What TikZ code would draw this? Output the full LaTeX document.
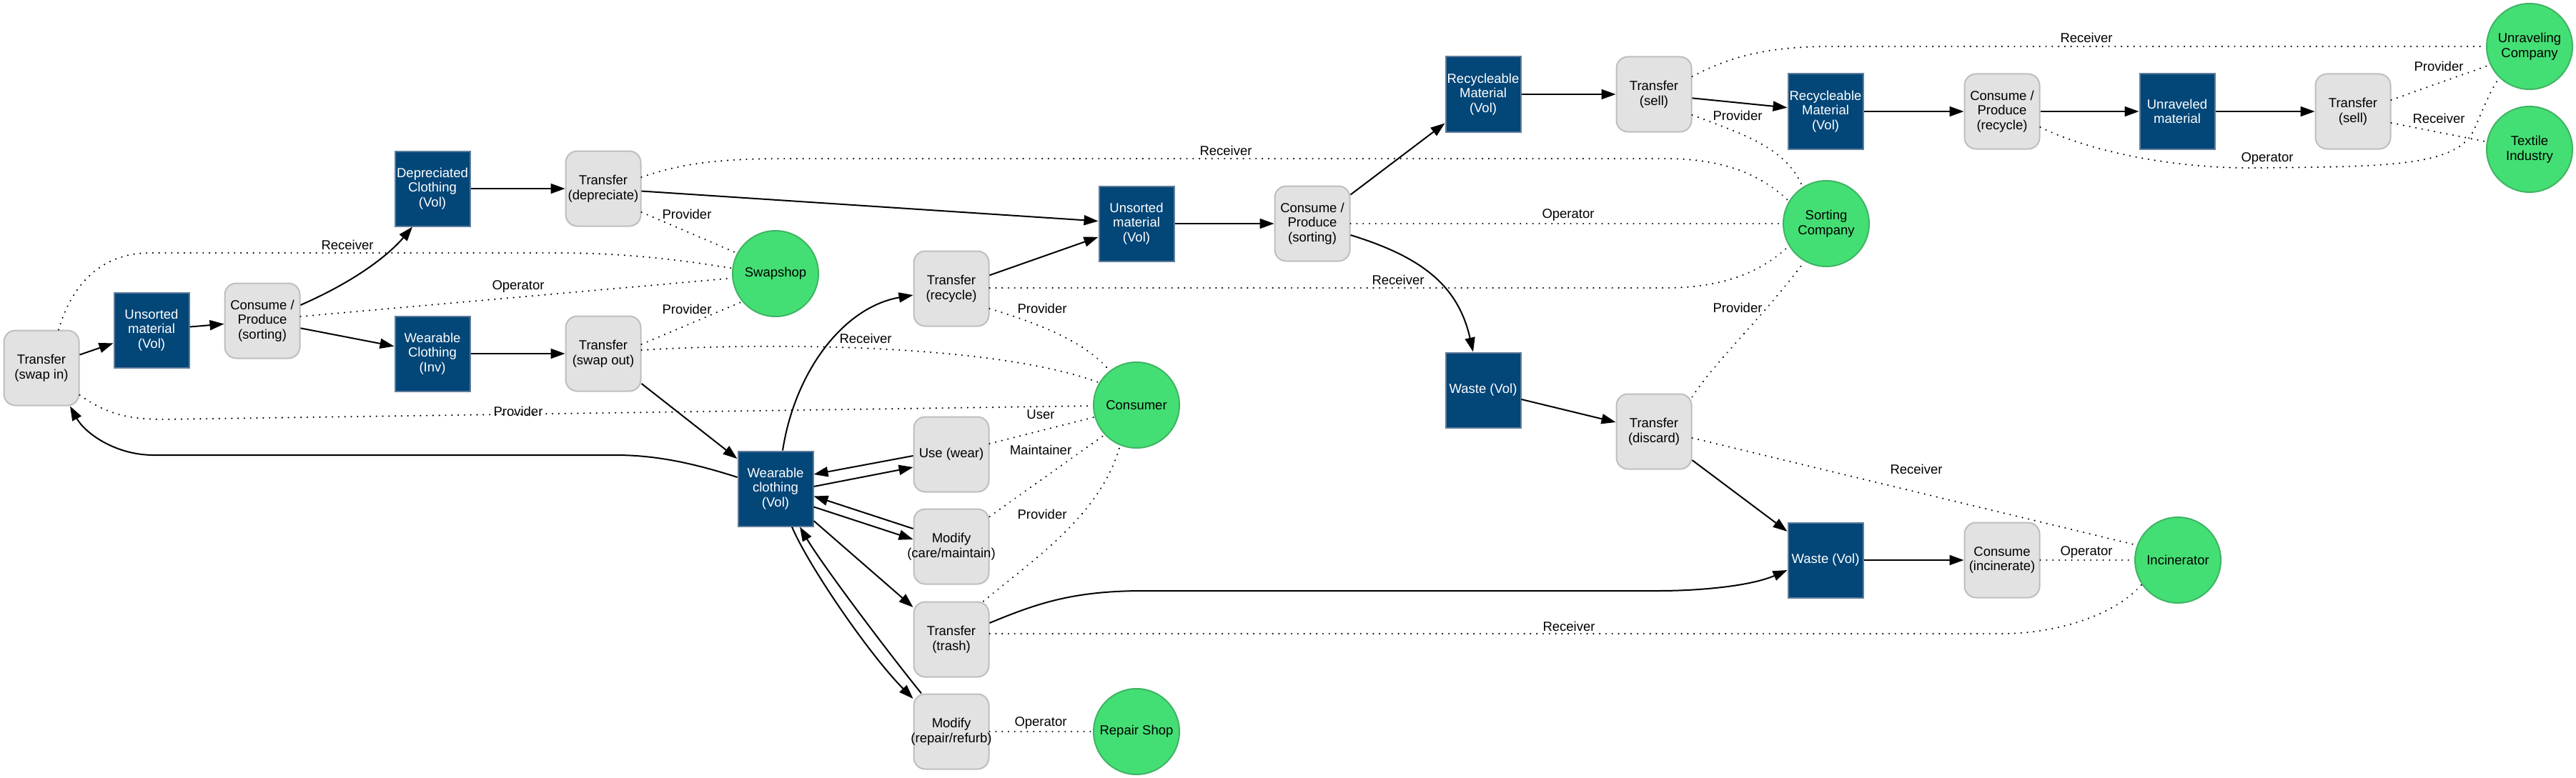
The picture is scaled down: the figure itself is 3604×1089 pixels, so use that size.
\documentclass[tikz,border=0pt]{standalone}
\usepackage{fontspec}
\setmainfont{Liberation Sans}
\usetikzlibrary{arrows.meta}
\definecolor{boxblue}{RGB}{3,70,120}
\definecolor{blueborder}{RGB}{95,125,155}
\definecolor{boxgray}{RGB}{226,226,226}
\definecolor{grayborder}{RGB}{190,190,190}
\definecolor{agentgreen}{RGB}{68,223,116}
\definecolor{greenborder}{RGB}{62,180,100}
\begin{document}
\begin{tikzpicture}[x=1pt,y=-1pt,
  every node/.style={font=\fontsize{18.5}{20.5}\selectfont},
  stock/.style={draw=blueborder, line width=2pt, fill=boxblue, text=white, minimum width=105pt, minimum height=105pt, inner sep=1pt, align=center},
  act/.style={draw=grayborder, line width=2pt, fill=boxgray, rounded corners=16pt, minimum width=105pt, minimum height=105pt, inner sep=1pt, align=center},
  agent/.style={circle, draw=greenborder, line width=2pt, fill=agentgreen, minimum size=120pt, inner sep=0pt, align=center},
  flow/.style={draw, line width=2pt, -{Triangle[length=20pt,width=14pt]}},
  rel/.style={draw, line width=2.3pt, line cap=round, dash pattern=on 0.1pt off 8.7pt},
  lbl/.style={inner sep=0pt}]
\fill[white] (0,0) rectangle (3604,1089);
\useasboundingbox (0,0) rectangle (3604,1089);

% ---------- nodes ----------
\node[act]   (swapin)   at (58,515)  {Transfer\\(swap in)};
\node[stock] (uns1)     at (212,462) {Unsorted\\material\\(Vol)};
\node[act]   (cons1)    at (367,449) {Consume /\\Produce\\(sorting)};
\node[stock] (depr)     at (605,264) {Depreciated\\Clothing\\(Vol)};
\node[stock] (wearInv)  at (605,495) {Wearable\\Clothing\\(Inv)};
\node[act]   (trDep)    at (844,264) {Transfer\\(depreciate)};
\node[act]   (trSwap)   at (844,495) {Transfer\\(swap out)};
\node[agent] (swapshop) at (1085,383) {Swapshop};
\node[stock] (wearVol)  at (1085,684) {Wearable\\clothing\\(Vol)};
\node[act]   (trRec)    at (1331,404) {Transfer\\(recycle)};
\node[act]   (use)      at (1331,636) {Use (wear)};
\node[act]   (modCare)  at (1331,765) {Modify\\\makebox[0pt]{(care/maintain)}};
\node[act]   (trTrash)  at (1331,895) {Transfer\\(trash)};
\node[act]   (modRep)   at (1331,1024) {Modify\\\makebox[0pt]{(repair/refurb)}};
\node[agent] (consumer) at (1590,567) {Consumer};
\node[agent] (repair)   at (1590,1024) {Repair Shop};
\node[stock] (uns2)     at (1590,313) {Unsorted\\material\\(Vol)};
\node[act]   (cons2)    at (1836,313) {Consume /\\Produce\\(sorting)};
\node[stock] (rec1)     at (2075,132) {\makebox[0pt]{Recycleable}\\Material\\(Vol)};
\node[act]   (sell1)    at (2314,132) {Transfer\\(sell)};
\node[stock] (rec2)     at (2554,156) {\makebox[0pt]{Recycleable}\\Material\\(Vol)};
\node[act]   (consRec)  at (2801,156) {Consume /\\Produce\\(recycle)};
\node[stock] (unrav)    at (3046,156) {Unraveled\\material};
\node[act]   (sell2)    at (3292,156) {Transfer\\(sell)};
\node[agent] (unravCo)  at (3539,65)  {Unraveling\\Company};
\node[agent] (textile)  at (3539,209) {Textile\\Industry};
\node[agent] (sortCo)   at (2555,313) {Sorting\\Company};
\node[stock] (waste1)   at (2075,546) {Waste (Vol)};
\node[act]   (discard)  at (2314,604) {Transfer\\(discard)};
\node[stock] (waste2)   at (2554,784) {Waste (Vol)};
\node[act]   (consInc)  at (2801,784) {Consume\\(incinerate)};
\node[agent] (incin)    at (3047,784) {Incinerator};

% ---------- material flows ----------
\draw[flow] (swapin) -- (uns1);
\draw[flow] (uns1) -- (cons1);
\draw[flow] ([yshift=22pt]cons1.east) .. controls (505,390) and (548,352) .. ([xshift=-28pt]depr.south);
\draw[flow] (cons1) -- (wearInv);
\draw[flow] (depr) -- (trDep);
\draw[flow] (wearInv) -- (trSwap);
\draw[flow] (trDep) -- (uns2);
\draw[flow] (trSwap) -- (wearVol);
\draw[flow] ([yshift=16pt]wearVol.west) .. controls (960,645) and (910,637) .. (860,637)
   -- (215,637) .. controls (160,637) and (118,605) .. ([xshift=40pt]swapin.south);
\draw[flow] ([xshift=10pt]wearVol.north) .. controls (1112,520) and (1180,430) .. ([yshift=-9pt]trRec.west);
\draw[flow] (trRec) -- (uns2);
\draw[flow] ([yshift=-2pt]use.west) -- ([yshift=20pt]wearVol.east);
\draw[flow] ([yshift=3pt]wearVol.east) -- ([yshift=-18pt]use.west);
\draw[flow] ([yshift=25pt]modCare.west) -- ([yshift=-10.5pt]wearVol.east);
\draw[flow] ([yshift=-25.5pt]wearVol.east) -- ([yshift=10pt]modCare.west);
\draw[flow] ([yshift=-45pt]wearVol.east) -- ([yshift=45pt]trTrash.west);
\draw[flow] ([xshift=23pt]wearVol.south) .. controls (1130,790) and (1215,915) .. ([yshift=46pt]modRep.west);
\draw[flow] ([xshift=-42pt]modRep.north) .. controls (1240,910) and (1150,790) .. ([xshift=34pt]wearVol.south);
\draw[flow] (uns2) -- (cons2);
\draw[flow] (cons2) -- (rec1);
\draw[flow] ([yshift=-16pt]cons2.east) .. controls (1990,360) and (2040,400) .. ([xshift=-14pt]waste1.north);
\draw[flow] (rec1) -- (sell1);
\draw[flow] (sell1) -- (rec2);
\draw[flow] (rec2) -- (consRec);
\draw[flow] (consRec) -- (unrav);
\draw[flow] (unrav) -- (sell2);
\draw[flow] (waste1) -- (discard);
\draw[flow] (discard) -- (waste2);
\draw[flow] ([yshift=23pt]trTrash.east) .. controls (1450,845) and (1500,827) .. (1600,827)
   -- (2320,827) .. controls (2380,827) and (2450,820) .. ([yshift=-14pt]waste2.west);
\draw[flow] (waste2) -- (consInc);

% ---------- roles ----------
\draw[rel] ([xshift=24pt]swapin.north) .. controls (100,400) and (140,354) .. (210,354)
   -- (780,354) .. controls (880,354) and (960,365) .. (swapshop.173);
\node[lbl] (l1) at (486,343) {Receiver};
\draw[rel] ([yshift=6pt]cons1.east) -- (swapshop.186);
\node[lbl] (l2) at (725,401) {Operator};
\draw[rel] ([yshift=-33pt]trDep.east) -- (swapshop.152);
\node[lbl] (l3) at (961,300) {Provider};
\draw[rel] ([yshift=13pt]trSwap.east) -- (swapshop.220);
\node[lbl] (l4) at (961,433) {Provider};
\draw[rel] ([yshift=5pt]trSwap.east) .. controls (1100,478) and (1400,484) .. (consumer.149);
\node[lbl] (l5) at (1211,474) {Receiver};
\draw[rel] ([yshift=-38pt]swapin.east) .. controls (150,580) and (180,587) .. (230,587) -- (consumer.181);
\node[lbl] (l6) at (725,576) {Provider};
\draw[rel] ([yshift=16pt]trDep.east) .. controls (950,230) and (1000,222) .. (1100,222)
   -- (2330,222) .. controls (2420,222) and (2470,250) .. (sortCo.149);
\node[lbl] (l7) at (1715,211) {Receiver};
\draw[rel] (cons2) -- (sortCo);
\node[lbl] (l8) at (2194,301) {Operator};
\draw[rel] ([yshift=1pt]trRec.east) -- (2330,403) .. controls (2420,403) and (2470,375) .. (sortCo.211);
\node[lbl] (l9) at (1956,392) {Receiver};
\draw[rel] ([yshift=-28pt]trRec.east) .. controls (1460,455) and (1520,480) .. (consumer.128);
\node[lbl] (l10) at (1458,432) {Provider};
\draw[rel] ([yshift=15pt]use.east) -- (consumer.196);
\node[lbl] (l11) at (1456,580) {User};
\draw[rel] ([yshift=42pt]modCare.east) -- (consumer.223);
\node[lbl] (l12) at (1456,630) {Maintainer};
\draw[rel] ([xshift=45pt]trTrash.north) .. controls (1450,780) and (1540,720) .. (consumer.248);
\node[lbl] (l13) at (1458,720) {Provider};
\draw[rel] (modRep) -- (repair);
\node[lbl] (l14) at (1456,1012) {Operator};
\draw[rel] ([yshift=8pt]trTrash.east) -- (2800,887) .. controls (2880,887) and (2960,860) .. (incin.214);
\node[lbl] (l15) at (2195,877) {Receiver};
\draw[rel] ([yshift=-5pt]discard.north east) .. controls (2400,505) and (2470,440) .. (sortCo.240);
\node[lbl] (l16) at (2431,431) {Provider};
\draw[rel] ([yshift=-29pt]sell1.east) .. controls (2430,185) and (2500,205) .. (sortCo.123);
\node[lbl] (l17) at (2431,162) {Provider};
\draw[rel] ([yshift=-9pt]discard.east) -- (incin.160);
\node[lbl] (l18) at (2681,657) {Receiver};
\draw[rel] (consInc) -- (incin);
\node[lbl] (l19) at (2919,773) {Operator};
\draw[rel] ([yshift=25pt]sell1.east) .. controls (2410,85) and (2460,65) .. (2560,65) -- (unravCo.west);
\node[lbl] (l20) at (2919,53) {Receiver};
\draw[rel] ([yshift=16pt]sell2.east) -- (unravCo.205);
\node[lbl] (l21) at (3412,93) {Provider};
\draw[rel] ([yshift=-16pt]sell2.east) -- (textile.170);
\node[lbl] (l22) at (3412,166) {Receiver};
\draw[rel] ([yshift=-22pt]consRec.east) .. controls (2930,215) and (3050,236) .. (3155,235)
   .. controls (3330,233) and (3440,235) .. (3462,180) .. controls (3475,150) and (3485,125) .. (unravCo.226);
\node[lbl] (l23) at (3172,222) {Operator};
\end{tikzpicture}
\end{document}
